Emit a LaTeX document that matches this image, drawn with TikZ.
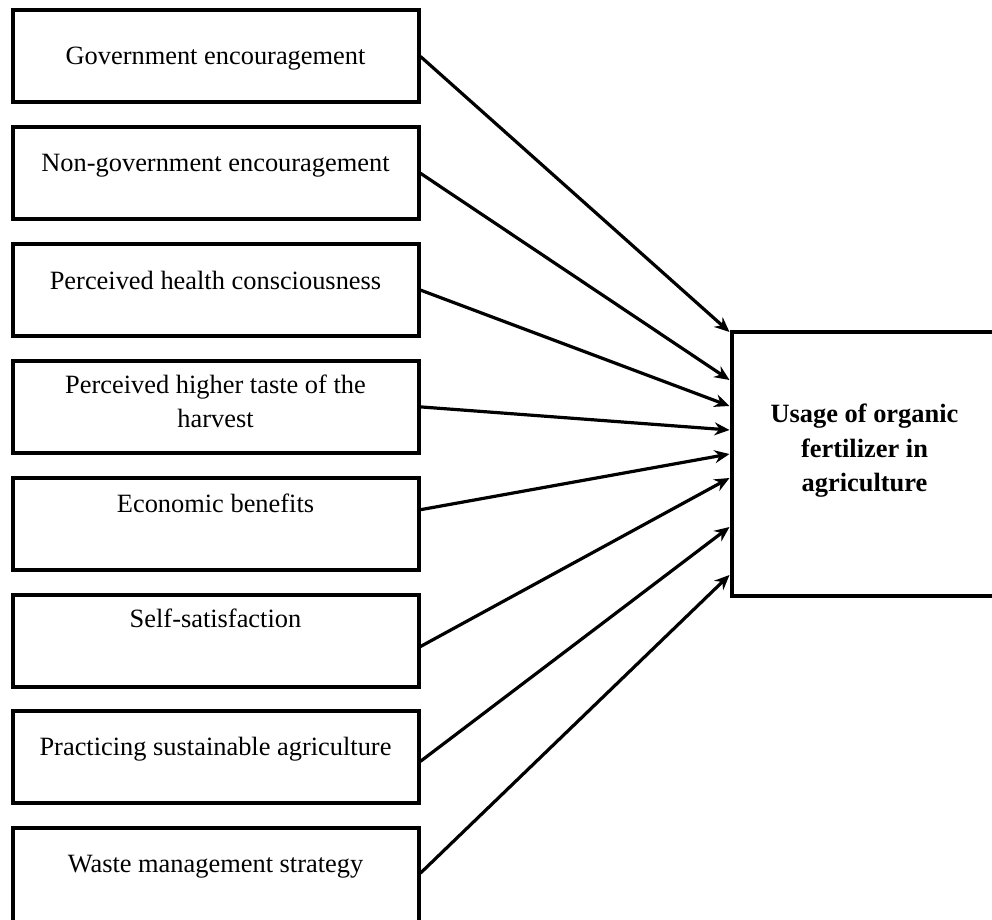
\documentclass[tikz,border=0pt]{standalone}
\usepackage{fontspec}
\setmainfont{Liberation Serif}
\usetikzlibrary{positioning,arrows.meta}

\begin{document}
\begin{tikzpicture}
\tikzset{
factor/.style={rectangle, draw=black, line width=2pt, minimum width=203pt, minimum height=46pt, inner sep=0pt},
usage/.style={rectangle, draw=black, line width=2pt, minimum width=137pt, minimum height=132pt, inner sep=0pt},
factortext/.style={anchor=base, inner sep=0pt, font=\fontsize{13.2}{17}\selectfont, align=center},
usagetext/.style={inner sep=0pt, font=\fontsize{13.2}{17.3}\selectfont\bfseries, align=center},
myarrow/.style={-{Stealth[length=7.5pt,width=6.5pt,inset=2.5pt]}, line width=1.6pt},
node distance=10.4pt
}
\useasboundingbox (0,0) rectangle (496pt,-460pt);

\node [factor, anchor=north west] (gov) at (5.25pt,-4.25pt) {};
\node [factor, below=of gov] (ngo) {};
\node [factor, below=of ngo] (health) {};
\node [factor, below=of health] (taste) {};
\node [factor, below=of taste] (econ) {};
\node [factor, below=of econ] (self) {};
\node [factor, below=of self] (sustain) {};
\node [factor, below=of sustain, minimum height=50pt] (waste) {};
\node [usage, anchor=north west] (out) at (364.75pt,-165pt) {};

\node [factortext] (govtext) at ([yshift=-28pt]gov.north) {Government encouragement};
\node [factortext] (ngotext) at ([yshift=-23pt]ngo.north) {Non-government encouragement};
\node [factortext] (healthtext) at ([yshift=-23.5pt]health.north) {Perceived health consciousness};
\node [factortext] (tastetext) at ([yshift=-34.5pt]taste.north) {Perceived higher taste of the\\harvest};
\node [factortext] (econtext) at ([yshift=-18.5pt]econ.north) {Economic benefits};
\node [factortext] (selftext) at ([yshift=-17.5pt]self.north) {Self-satisfaction};
\node [factortext] (sustaintext) at ([yshift=-23pt]sustain.north) {Practicing sustainable agriculture};
\node [factortext] (wastetext) at ([yshift=-23pt]waste.north) {Waste management strategy};
\node [usagetext] (outtext) at ([xshift=-2pt,yshift=6.5pt]out.center) {Usage of organic\\fertilizer in\\agriculture};

\coordinate (wasteout) at ([yshift=-23.5pt]waste.north east);

\draw[myarrow] (gov.east) -- ([yshift=-1pt]out.north west);
\draw[myarrow] (ngo.east) -- ([yshift=-25pt]out.north west);
\draw[myarrow] (health.east) -- ([yshift=-38pt]out.north west);
\draw[myarrow] (taste.east) -- ([yshift=-50pt]out.north west);
\draw[myarrow] ([yshift=7pt]econ.east) -- ([yshift=-62pt]out.north west);
\draw[myarrow] ([yshift=-3pt]self.east) -- ([yshift=-74pt]out.north west);
\draw[myarrow] ([yshift=-2pt]sustain.east) -- ([yshift=-98.5pt]out.north west);
\draw[myarrow] (wasteout) -- ([yshift=-122.5pt]out.north west);
\end{tikzpicture}
\end{document}
